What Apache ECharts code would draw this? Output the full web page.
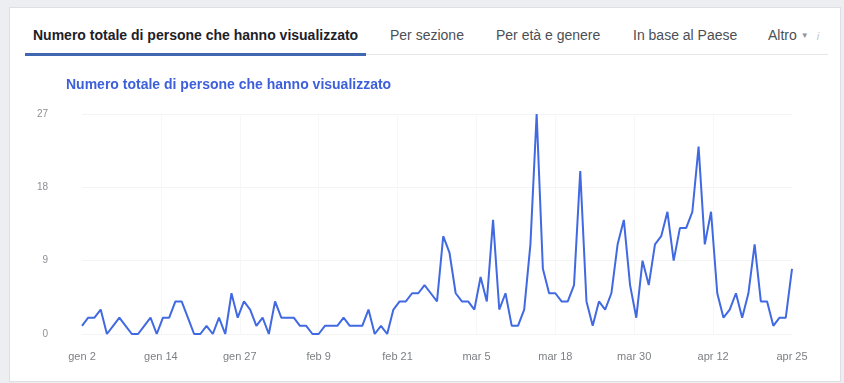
<!DOCTYPE html>
<html>
<head>
<meta charset="utf-8">
<script src="https://cdn.jsdelivr.net/npm/echarts@6/dist/echarts.min.js"></script>
<style>
html, body {
  margin: 0;
  padding: 0;
  width: 844px;
  height: 383px;
  overflow: hidden;
  background: #eceef1;
  font-family: "Liberation Sans", Arial, sans-serif;
}
.card {
  position: absolute;
  left: 9px;
  top: 7px;
  width: 832px;
  height: 375px;
  background: #fff;
  border: 1px solid #dddfe2;
  box-sizing: border-box;
}
.tab {
  position: absolute;
  top: 26px;
  line-height: 18px;
  font-size: 14px;
  color: #4b4f56;
  white-space: nowrap;
}
.tab.active {
  color: #1d2129;
  font-weight: bold;
  font-size: 14px;
}
.tab .caret { font-size: 8px; color: #90949c; margin-left: 4px; vertical-align: 2px; }
.tab .info { font-size: 11px; color: #c4c6ca; font-style: italic; margin-left: 8px; }
.tab-rule { position: absolute; left: 360px; top: 54px; width: 468px; height: 1px; background: #e5e6e9; }
.tab-bar { position: absolute; left: 25px; top: 53px; width: 341px; height: 3px; background: #4267b2; }
#chart { position: absolute; left: 0; top: 0; width: 844px; height: 383px; }
</style>
</head>
<body>
<div class="card"></div>
<div class="tab active" style="left:33px;">Numero totale di persone che hanno visualizzato</div>
<div class="tab" style="left:390px;">Per sezione</div>
<div class="tab" style="left:496px;">Per età e genere</div>
<div class="tab" style="left:633px;">In base al Paese</div>
<div class="tab" style="left:768px;">Altro<span class="caret">▼</span><span class="info">i</span></div>
<div class="tab-rule"></div>
<div class="tab-bar"></div>
<div id="chart"></div>

<script>
// daily people reached, gen 2 -> apr 25
const dayValues = [
  1, 2, 2, 3, 0, 1, 2, 1, 0, 0, 1, 2, 0, 2, 2, 4, 4, 2, 0, 0,
  1, 0, 2, 0, 5, 2, 4, 3, 1, 2, 0, 4, 2, 2, 2, 1, 1, 0, 0, 1,
  1, 1, 2, 1, 1, 1, 3, 0, 1, 0, 3, 4, 4, 5, 5, 6, 5, 4, 12, 10,
  5, 4, 4, 3, 7, 4, 14, 3, 5, 1, 1, 3, 11, 27, 8, 5, 5, 4, 4, 6,
  20, 4, 1, 4, 3, 5, 11, 14, 6, 2, 9, 6, 11, 12, 15, 9, 13, 13, 15, 23,
  11, 15, 5, 2, 3, 5, 2, 5, 11, 4, 4, 1, 2, 2, 8
];
const tickLabels = ['gen 2', 'gen 14', 'gen 27', 'feb 9', 'feb 21', 'mar 5', 'mar 18', 'mar 30', 'apr 12', 'apr 25'];
const yMax = 27;
const yStep = 9;

const lastIndex = dayValues.length - 1;
const tickStep = lastIndex / (tickLabels.length - 1);
const tickValues = tickLabels.map((_, k) => k * tickStep);

const chart = echarts.init(document.getElementById('chart'));
chart.setOption({
  animation: false,
  title: {
    text: 'Numero totale di persone che hanno visualizzato',
    left: 66,
    top: 78,
    padding: 0,
    textStyle: { color: '#3d5fd9', fontSize: 14, fontWeight: 'bold', fontFamily: 'Liberation Sans' }
  },
  grid: { left: 82, right: 52, top: 114, bottom: 49 },
  xAxis: {
    type: 'value',
    min: 0,
    max: lastIndex,
    axisLine: { show: false },
    axisTick: { show: false },
    splitLine: { show: false },
    axisLabel: {
      customValues: tickValues,
      formatter: v => tickLabels[Math.round(v / tickStep)],
      color: '#7d7f84',
      fontSize: 11,
      fontFamily: 'Liberation Sans',
      margin: 17
    }
  },
  yAxis: {
    type: 'value',
    min: 0,
    max: yMax,
    interval: yStep,
    axisLine: { show: false },
    axisTick: { show: false },
    splitLine: { lineStyle: { color: '#f4f4f4', width: 1 } },
    axisLabel: { color: '#8d8f94', fontSize: 10, fontFamily: 'Liberation Sans', margin: 34 }
  },
  series: [{
    type: 'line',
    data: dayValues.map((v, i) => [i, v]),
    showSymbol: false,
    lineStyle: { color: '#4169e1', width: 2 },
    itemStyle: { color: '#4169e1' },
    markLine: {
      z: 1,
      silent: true,
      symbol: 'none',
      label: { show: false },
      lineStyle: { color: '#f7f7f7', width: 1, type: 'solid' },
      data: tickValues.slice(1, -1).map(v => ({ xAxis: v }))
    }
  }]
});
</script>
</body>
</html>
